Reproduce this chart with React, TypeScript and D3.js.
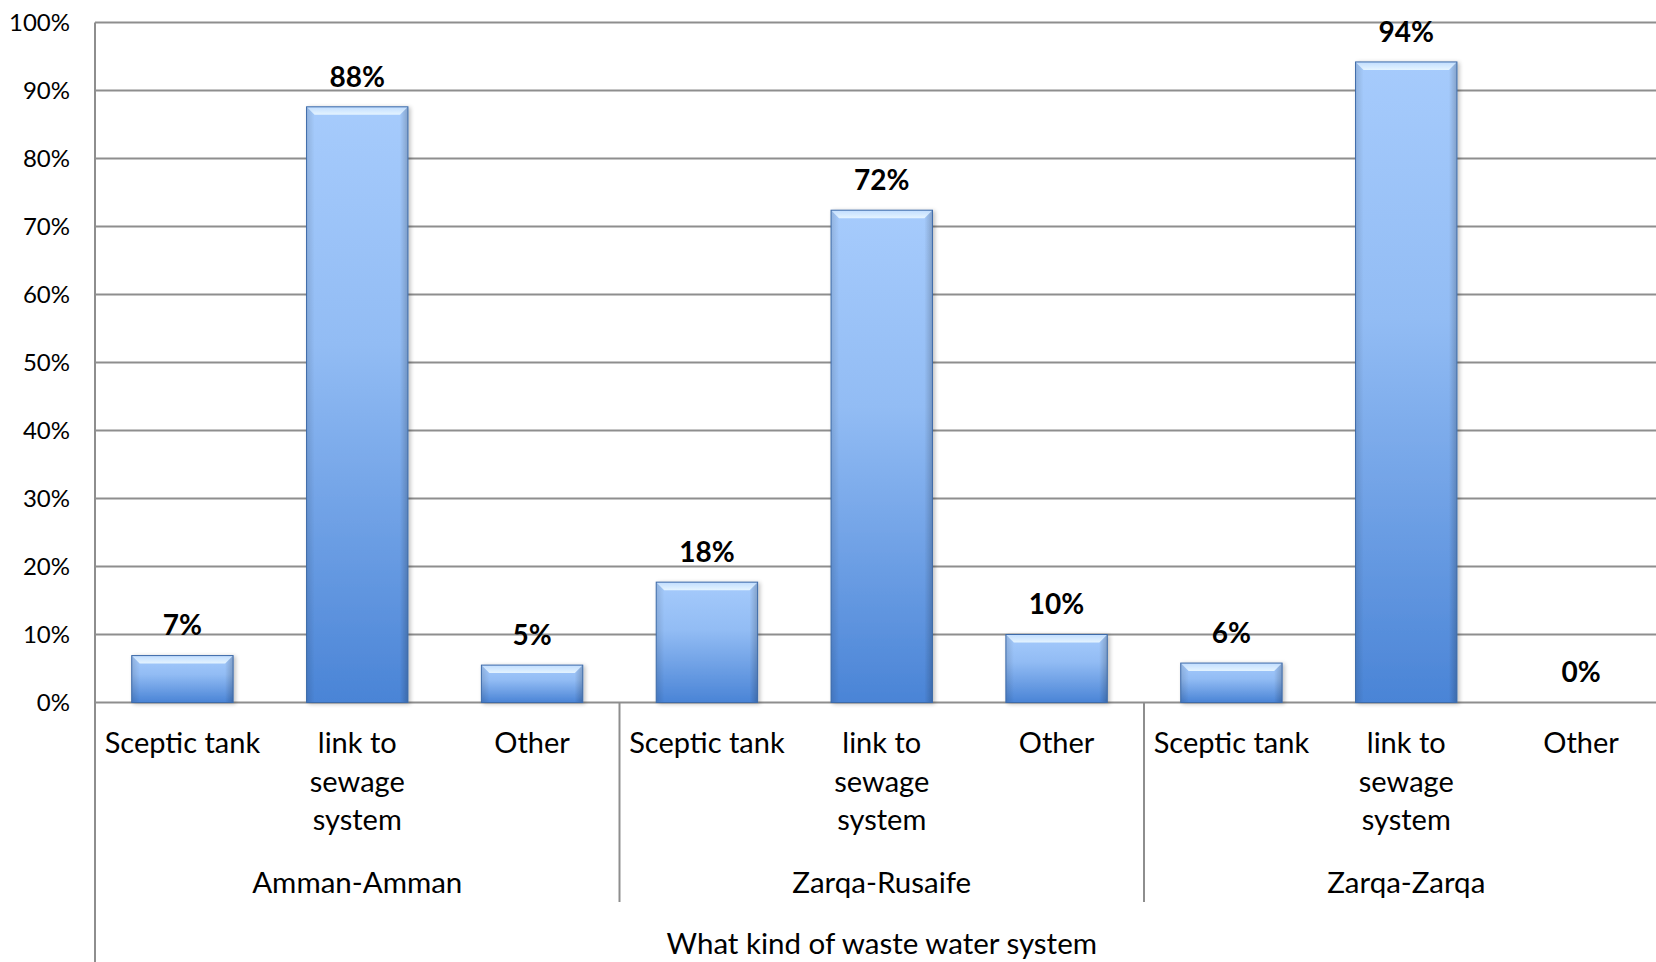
import * as d3 from 'd3';

// Waste water system by governorate-district, grouped bar chart

const groups = ['Amman-Amman', 'Zarqa-Rusaife', 'Zarqa-Zarqa'];
const categories = ['Sceptic tank', 'link to sewage system', 'Other'];
const categoryLines = [['Sceptic tank'], ['link to', 'sewage', 'system'], ['Other']];
const values = [
  [0.069, 0.876, 0.055],
  [0.177, 0.724, 0.1],
  [0.058, 0.942, 0.0],
];
const labels = [
  ['7%', '88%', '5%'],
  ['18%', '72%', '10%'],
  ['6%', '94%', '0%'],
];
const yTicks = [0, 0.1, 0.2, 0.3, 0.4, 0.5, 0.6, 0.7, 0.8, 0.9, 1];
const axisTitle = 'What kind of waste water system';

const W = 1656;
const H = 962;
const left = 95;
const right = 1668.5; // plot runs past the picture's right edge
const top = 22.5;
const bottom = 702.5;
const FONT = 'Lato, "Open Sans", sans-serif';

export default function App() {
  const keys = groups.flatMap((g, gi) => categories.map((c, ci) => `${gi}-${ci}`));
  const x = d3.scaleBand<string>().domain(keys).range([left, right])
    .paddingInner(0.42).paddingOuter(0.21);
  const xg = d3.scaleBand<string>().domain(groups).range([left, right]);
  const y = d3.scaleLinear().domain([0, 1]).range([bottom, top]);
  const fmt = d3.format('.0%');
  const bw = x.bandwidth();

  return (
    <svg width={W} height={H} style={{ position: 'absolute', left: 0, top: 0, background: '#fff' }}
      fontFamily={FONT}>
      <defs>
        <linearGradient id="barFill" x1="0" y1="0" x2="0" y2="1">
          <stop offset="0%" stopColor="#a6cbfc" />
          <stop offset="40%" stopColor="#92bcf4" />
          <stop offset="100%" stopColor="#4a84d6" />
        </linearGradient>
        <linearGradient id="topBevel" x1="0" y1="0" x2="0" y2="1">
          <stop offset="0%" stopColor="#c2deff" />
          <stop offset="100%" stopColor="#e8f6ff" />
        </linearGradient>
        <linearGradient id="sideShade" x1="0" y1="0" x2="1" y2="0">
          <stop offset="0%" stopColor="#000" stopOpacity={0.12} />
          <stop offset="8%" stopColor="#000" stopOpacity={0} />
          <stop offset="92%" stopColor="#000" stopOpacity={0} />
          <stop offset="100%" stopColor="#000" stopOpacity={0.2} />
        </linearGradient>
        <filter id="shadow" x="-20%" y="-20%" width="140%" height="140%">
          <feGaussianBlur in="SourceAlpha" stdDeviation="2" />
          <feOffset dx="2" dy="1" result="b" />
          <feComponentTransfer><feFuncA type="linear" slope="0.25" /></feComponentTransfer>
          <feMerge><feMergeNode /><feMergeNode in="SourceGraphic" /></feMerge>
        </filter>
      </defs>

      {/* gridlines */}
      {yTicks.map((t) => (
        <line key={t} x1={left} x2={W} y1={y(t)} y2={y(t)} stroke="#8e8e8e" strokeWidth={2} />
      ))}
      {/* y tick labels */}
      {yTicks.map((t) => (
        <text key={'l' + t} x={70} y={y(t)} dy="0.35em" textAnchor="end" fontSize={24} fill="#000">
          {fmt(t)}
        </text>
      ))}

      {/* bars */}
      {values.map((row, gi) =>
        row.map((v, ci) => {
          const k = `${gi}-${ci}`;
          const x0 = x(k)!;
          const y0 = y(v);
          const h = bottom - y0;
          if (h <= 0.5) return null;
          const bev = Math.min(8, h / 2);
          return (
            <g key={k} filter="url(#shadow)">
              <rect x={x0} y={y0} width={bw} height={h} fill="url(#barFill)" />
              <rect x={x0} y={y0} width={bw} height={h} fill="url(#sideShade)" />
              <path
                d={`M${x0},${y0}L${x0 + bw},${y0}L${x0 + bw - bev},${y0 + bev}L${x0 + bev},${y0 + bev}Z`}
                fill="url(#topBevel)" opacity={0.95} />
              <rect x={x0} y={y0} width={bw} height={h} fill="none" stroke="#3d6aa8" strokeWidth={1} />
            </g>
          );
        })
      )}

      {/* data labels */}
      {values.map((row, gi) =>
        row.map((v, ci) => (
          <text key={'d' + gi + ci} x={x(`${gi}-${ci}`)! + bw / 2} y={y(v) - 30} dy="0.35em"
            textAnchor="middle" fontSize={28} fontWeight="bold" fill="#000">
            {labels[gi][ci]}
          </text>
        ))
      )}

      {/* left axis line */}
      <line x1={left} x2={left} y1={top} y2={H} stroke="#8e8e8e" strokeWidth={2} />
      {/* group separators */}
      {groups.slice(1).map((g) => (
        <line key={'s' + g} x1={xg(g)!} x2={xg(g)!} y1={bottom} y2={902} stroke="#8e8e8e" strokeWidth={2} />
      ))}

      {/* category labels */}
      {groups.map((g, gi) =>
        categoryLines.map((lines, ci) =>
          lines.map((ln, li) => (
            <text key={`c${gi}${ci}${li}`} x={x(`${gi}-${ci}`)! + bw / 2} y={743 + li * 38.5} dy="0.35em"
              textAnchor="middle" fontSize={29} fill="#000">
              {ln}
            </text>
          ))
        )
      )}

      {/* group labels */}
      {groups.map((g) => (
        <text key={'g' + g} x={xg(g)! + xg.bandwidth() / 2} y={883} dy="0.35em" textAnchor="middle"
          fontSize={29.5} fill="#000">
          {g}
        </text>
      ))}

      <text x={(left + right) / 2} y={944} dy="0.35em" textAnchor="middle" fontSize={29.5} fill="#000">
        {axisTitle}
      </text>
    </svg>
  );
}
